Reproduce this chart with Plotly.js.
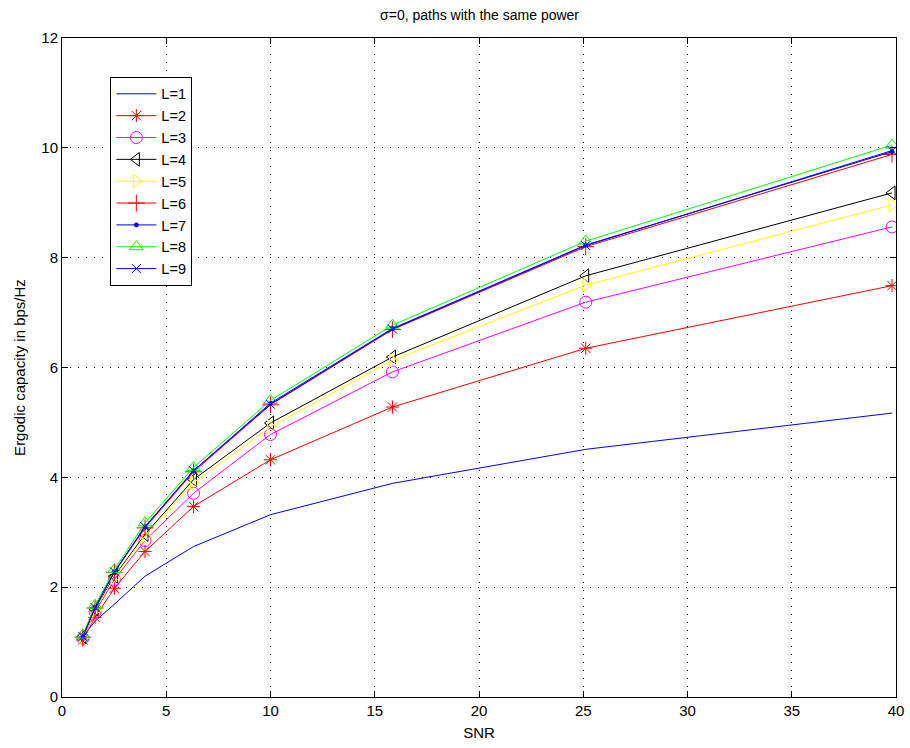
<!DOCTYPE html>
<html>
<head>
<meta charset="utf-8">
<script src="https://cdn.plot.ly/plotly-3.0.1.min.js"></script>
<style>html,body{margin:0;padding:0;background:#fff;}#chart{width:910px;height:748px;}</style>
</head>
<body>
<div id="chart"></div>
<script>
const snr = [1, 1.585, 2.512, 3.981, 6.310, 10, 15.849, 25.119, 39.811];
const seriesNames = ["L=1","L=2","L=3","L=4","L=5","L=6","L=7","L=8","L=9"];
const L1 = [1.10, 1.38, 1.69, 2.20, 2.74, 3.32, 3.89, 4.51, 5.17];
const L2 = [1.04, 1.45, 1.98, 2.65, 3.47, 4.32, 5.28, 6.35, 7.49];
const L3 = [1.07, 1.55, 2.14, 2.85, 3.71, 4.78, 5.92, 7.19, 8.56];
const L4 = [1.10, 1.60, 2.20, 2.96, 3.96, 4.99, 6.19, 7.67, 9.18];
const L5 = [1.07, 1.58, 2.18, 2.93, 3.90, 4.92, 6.13, 7.50, 8.96];
const L6 = [1.09, 1.62, 2.27, 3.08, 4.10, 5.32, 6.69, 8.20, 9.88];
const L7 = [1.10, 1.63, 2.28, 3.10, 4.12, 5.35, 6.71, 8.23, 9.93];
const L8 = [1.13, 1.67, 2.32, 3.17, 4.18, 5.40, 6.77, 8.30, 10.05];
const L9 = [1.10, 1.63, 2.28, 3.10, 4.12, 5.33, 6.70, 8.22, 9.95];

const data = [L1,L2,L3,L4,L5,L6,L7,L8,L9];
const colors = ["#0000ff","#ff0000","#ff00ff","#000000","#ffff00","#ff0000","#0000ff","#00ff00","#0000ff"];
const symbols = ["circle","asterisk-open","circle-open","triangle-left-open","triangle-right-open","cross-thin-open","circle","triangle-up-open","x-thin-open"];
const sizes = [1,11,12,12,12,12,4,12,9];

const traces = data.map((ys,i)=>{
  const t = {
    x: snr, y: ys, name: seriesNames[i], type:'scatter',
    mode: i===0 ? 'lines' : 'lines+markers',
    line:{color:colors[i], width:1}
  };
  if (i>0) t.marker = {symbol:symbols[i], size:sizes[i], color:colors[i], line:{color:colors[i], width:1}};
  return t;
});

const FONT = 'Liberation Sans, Arial, sans-serif';
const axisCommon = {
  showline:true, linecolor:'#000', linewidth:1, mirror:'ticks',
  ticks:'inside', ticklen:6, tickcolor:'#000',
  showgrid:true, gridcolor:'#000', gridwidth:1, griddash:'1px,7px',
  zeroline:false,
  tickfont:{family:FONT, size:15, color:'#000'}
};

const layout = {
  width:910, height:748,
  margin:{l:62, r:14, t:38, b:51},
  paper_bgcolor:'#fff', plot_bgcolor:'#fff',
  title:{text:'σ=0, paths with the same power', font:{family:FONT, size:14, color:'#000'}, x:0.527, xanchor:'center', y:0.987, yanchor:'top'},
  xaxis: Object.assign({}, axisCommon, {range:[0,40], dtick:5, tick0:0,
    title:{text:'SNR', font:{family:FONT, size:15, color:'#000'}, standoff:9}}),
  yaxis: Object.assign({}, axisCommon, {range:[0,12], dtick:2, tick0:0,
    title:{text:'Ergodic capacity in bps/Hz', font:{family:FONT, size:15, color:'#000'}, standoff:12}}),
  showlegend:true,
  legend:{x:0.058, y:0.941, xanchor:'left', yanchor:'top', bgcolor:'#fff', bordercolor:'#000', borderwidth:1,
    font:{family:FONT, size:14.5, color:'#000'}, itemwidth:40, tracegroupgap:0}
};

Plotly.newPlot('chart', traces, layout, {displayModeBar:false, staticPlot:true});
</script>
</body>
</html>
